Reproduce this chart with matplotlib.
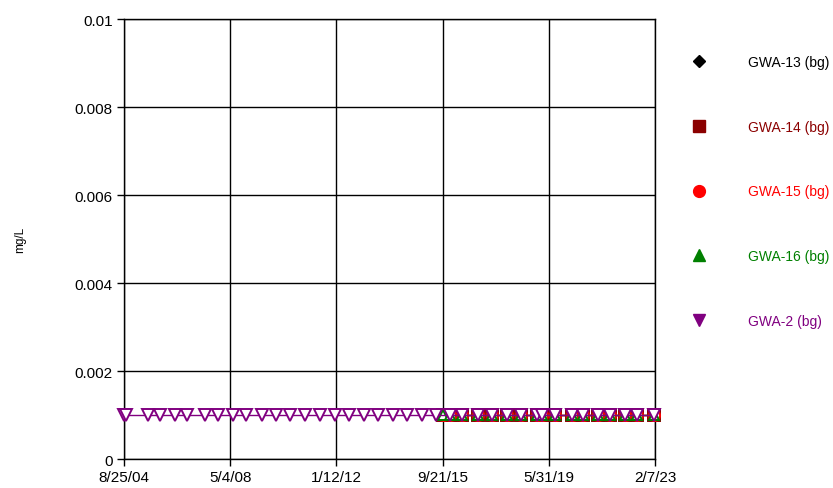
import numpy as np
import pandas as pd
import matplotlib
matplotlib.use('Agg')
import matplotlib.pyplot as plt
from matplotlib.lines import Line2D

plt.rcParams['font.family'] = ['Liberation Sans', 'DejaVu Sans']

# Sampling dates (all results non-detect at 0.001 mg/L)
gwa2_dates = ['2004-08-25', '2004-09-20', '2005-06-26', '2005-11-25', '2006-06-03',
              '2006-11-02', '2007-06-18', '2007-11-30', '2008-06-08', '2008-11-20',
              '2009-06-11', '2009-12-06', '2010-06-02', '2010-12-10', '2011-06-18',
              '2011-12-25', '2012-06-20', '2012-12-28', '2013-06-23', '2013-12-31',
              '2014-06-26', '2015-01-03', '2015-06-30', '2015-12-24', '2016-05-25',
              '2016-12-14', '2017-06-09', '2017-12-17', '2018-06-13', '2019-01-02',
              '2019-03-06', '2019-08-18', '2020-03-21', '2020-08-08', '2021-02-14',
              '2021-07-16', '2022-01-23', '2022-06-24', '2023-01-20']
bg_dates = ['2015-09-26', '2015-12-24', '2016-05-25', '2016-12-14', '2017-06-09',
            '2017-12-17', '2018-06-13', '2019-01-02', '2019-03-06', '2019-08-18',
            '2020-03-21', '2020-08-08', '2021-02-14', '2021-07-16', '2022-01-23',
            '2022-06-24', '2023-01-20']
gwa2_vals = [0.001] * len(gwa2_dates)
gwa14_vals = [0.001] * len(bg_dates)
gwa15_vals = [0.001] * len(bg_dates)
gwa16_vals = [0.001] * len(bg_dates)

x_ticks = ['2004-08-25', '2008-05-04', '2012-01-12', '2015-09-21', '2019-05-31', '2023-02-07']
x_tick_labels = ['8/25/04', '5/4/08', '1/12/12', '9/21/15', '5/31/19', '2/7/23']
y_ticks = [0, 0.002, 0.004, 0.006, 0.008, 0.01]
y_tick_labels = ['0', '0.002', '0.004', '0.006', '0.008', '0.01']

names = ['GWA-13 (bg)', 'GWA-14 (bg)', 'GWA-15 (bg)', 'GWA-16 (bg)', 'GWA-2 (bg)']
colors = ['black', '#8b0000', 'red', 'green', 'purple']
markers = ['D', 's', 'o', '^', 'v']
msizes = [6, 8.5, 8.5, 8.5, 8.5]

fig = plt.figure(figsize=(8.33, 4.89), dpi=100)
ax = fig.add_axes([0.1489, 0.0593, 0.6374, 0.8998])

bd = pd.to_datetime(bg_dates)
g2 = pd.to_datetime(gwa2_dates)

common = dict(mfc='white', mew=1.4, lw=1, clip_on=False)
ax.plot(bd, gwa14_vals, color=colors[1], marker='s', ms=8, mec=colors[1], zorder=3, **common)
ax.plot(bd, gwa15_vals, color=colors[2], marker='o', ms=8, mec=colors[2], zorder=4, **common)
ax.plot(bd, gwa16_vals, color=colors[3], marker='^', ms=7.5, mec=colors[3], zorder=5, **common)
ax.plot(g2, gwa2_vals, color=colors[4], marker='v', ms=8, mec=colors[4], zorder=6, **common)

xt = pd.to_datetime(x_ticks)
ax.set_xlim(xt[0], xt[-1])
ax.set_xticks(xt)
ax.set_xticklabels(x_tick_labels)
ax.set_ylim(0, 0.01)
ax.set_yticks(y_ticks)
ax.set_yticklabels(y_tick_labels)

ax.grid(True, color='black', linewidth=1)
ax.set_axisbelow(True)
for sp in ax.spines.values():
    sp.set_color('black')
    sp.set_linewidth(1)
ax.tick_params(axis='both', direction='out', length=5, width=1, labelsize=11, colors='black', pad=3)

ax.set_ylabel('mg/L', fontsize=8.5, labelpad=35)

# Legend on the right
handles = [Line2D([], [], ls='none', marker=m, ms=s, color=c) for m, c, s in zip(markers, colors, msizes)]
leg = fig.legend(handles, names, loc='upper left', bbox_to_anchor=(0.816, 0.911),
                 frameon=False, fontsize=10, labelspacing=3.65, handletextpad=3.0,
                 handlelength=1.0, labelcolor=colors)

fig.savefig('out.png', dpi=100, facecolor='white')
